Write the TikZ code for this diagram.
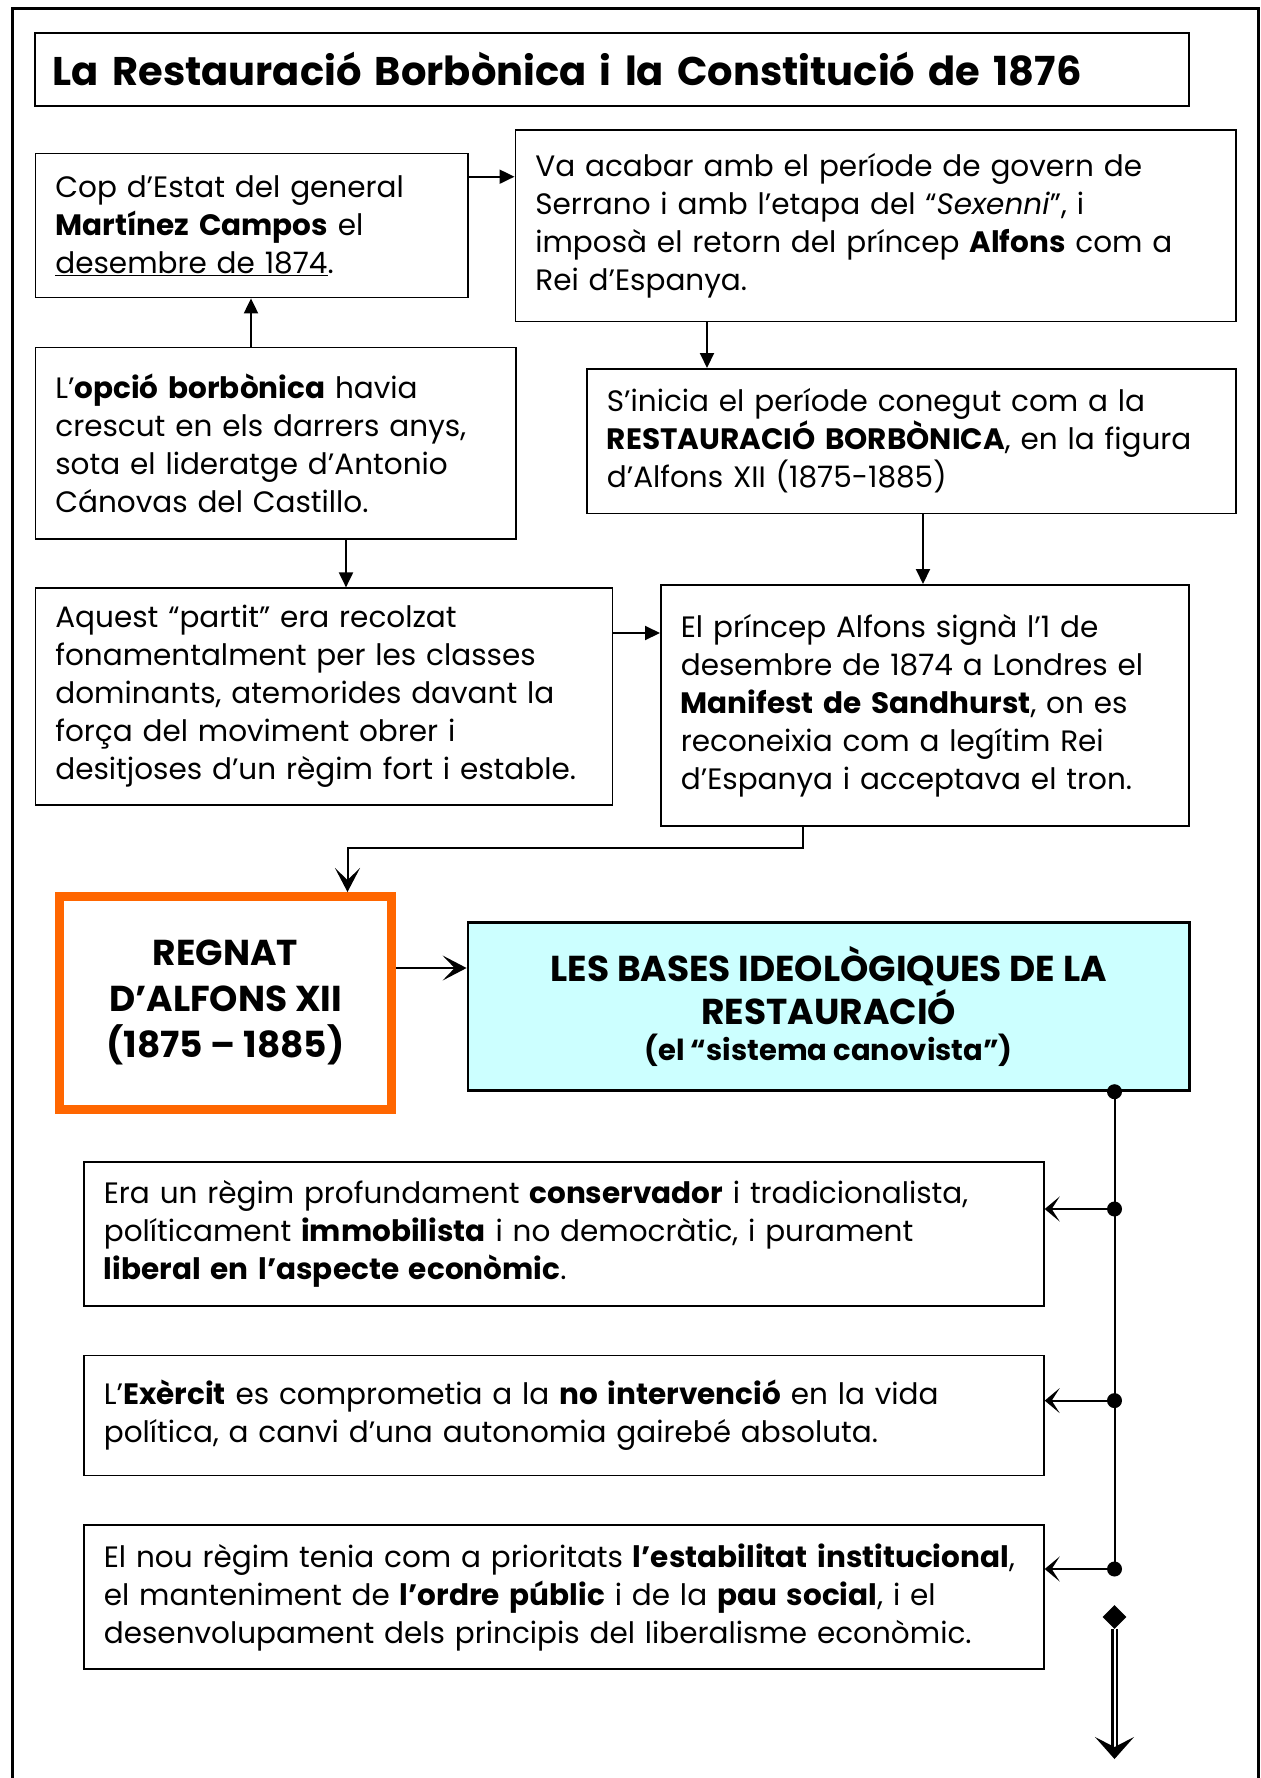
\documentclass[tikz,border=0pt]{standalone}
\usepackage{fontspec}
\setmainfont{Poppins}
\usetikzlibrary{arrows.meta, calc, positioning, shapes.geometric}
\definecolor{regnat}{HTML}{FF6600}
\definecolor{bases}{HTML}{CCFFFF}

\begin{document}
\begin{tikzpicture}[
    x=1pt, y=-1pt,
    >={Triangle[length=15pt, width=14pt]},
    every node/.style={font=\fontsize{29.5}{38}\selectfont},
    box/.style   ={draw, line width=1.7pt, align=left, anchor=north west,
                   inner xsep=20pt, inner ysep=0pt},
    titol/.style ={draw, line width=1.7pt, align=left, anchor=north west,
                   inner xsep=18pt, inner ysep=0pt, text width=1118pt,
                   minimum height=73pt, font=\fontsize{40}{46}\selectfont\bfseries},
    regne/.style ={draw=regnat, line width=9pt, align=center, anchor=north west,
                   inner sep=0pt, font=\fontsize{36}{46}\selectfont\bfseries},
    bases/.style ={draw, line width=2.7pt, fill=bases, align=center,
                   anchor=north west, inner sep=0pt,
                   font=\fontsize{36}{43}\selectfont\bfseries},
    flow/.style  ={->, line width=2pt},
    barb/.style  ={-{Stealth[length=24pt, width=25pt, inset=12pt]}, line width=2pt},
    branca/.style={-{Stealth[length=15pt, width=25pt, inset=8pt]}, line width=2pt},
    dbl/.style   ={double, double distance=2pt, line width=2.2pt,
                   -{Stealth[length=22pt, width=39pt, inset=10pt]}},
]
\useasboundingbox (0,0) rectangle (1261,1778);
\draw[line width=3pt] (12,1778) -- (12,8) -- (1258,8) -- (1258,1778);

\node[titol] (title) at (34,32) {La Restauració Borbònica i la Constitució de 1876};

\node[box, text width=392.5pt, minimum height=144pt] (cop) at (34.5,152.7)
    {Cop d’Estat del general\\ \textbf{Martínez Campos} el\\ \underline{desembre de 1874}.};
\node[box, text width=680.5pt, minimum height=191.7pt] (acabar) at (514.5,129)
    {Va acabar amb el període de govern de\\ Serrano i amb l’etapa del “\textit{Sexenni}”, i\\
     imposà el retorn del príncep \textbf{Alfons} com a\\ Rei d’Espanya.};
\node[box, text width=440.5pt, minimum height=191.7pt,
      below=48.3pt of cop.south west, anchor=north west] (opcio)
    {L’\textbf{opció borbònica} havia\\ crescut en els darrers anys,\\
     sota el lideratge d’Antonio\\ Cánovas del Castillo.};
\node[box, text width=609pt, minimum height=144.7pt] (inicia) at (586,368)
    {S’inicia el període conegut com a la\\ \textbf{RESTAURACIÓ BORBÒNICA}, en la figura\\
     d’Alfons XII (1875-1885)};
\node[box, text width=537pt, minimum height=216.7pt,
      below=47.3pt of opcio.south west, anchor=north west] (partit)
    {Aquest “partit” era recolzat\\ fonamentalment per les classes\\
     dominants, atemorides davant la\\ força del moviment obrer i\\
     desitjoses d’un règim fort i estable.};
\node[box, text width=488pt, minimum height=241pt] (manifest) at (660,584)
    {El príncep Alfons signà l’1 de\\ desembre de 1874 a Londres el\\
     \textbf{Manifest de Sandhurst}, on es\\ reconeixia com a legítim Rei\\
     d’Espanya i acceptava el tron.};

\node[regne, minimum width=332pt, minimum height=212.5pt] (regnat) at (55,892)
    {REGNAT\\ D’ALFONS XII\\ (1875 – 1885)};
\node[bases, minimum width=721.4pt, minimum height=168pt] (ideol) at (466.6,921)
    {LES BASES IDEOLÒGIQUES DE LA\\ RESTAURACIÓ\\[-7pt]
     {\fontsize{29}{34}\selectfont (el “sistema canovista”)}};

\node[box, text width=920pt, minimum height=144pt] (conserv) at (83,1161)
    {Era un règim profundament \textbf{conservador} i tradicionalista,\\
     políticament \textbf{immobilista} i no democràtic, i purament\\
     \textbf{liberal en l’aspecte econòmic}.};
\node[box, text width=920pt, minimum height=120pt,
      below=48pt of conserv.south west, anchor=north west] (exercit)
    {L’\textbf{Exèrcit} es comprometia a la \textbf{no intervenció} en la vida\\
     política, a canvi d’una autonomia gairebé absoluta.};
\node[box, text width=920pt, minimum height=144pt,
      below=48pt of exercit.south west, anchor=north west] (ordre)
    {El nou règim tenia com a prioritats \textbf{l’estabilitat institucional},\\
     el manteniment de \textbf{l’ordre públic} i de la \textbf{pau social}, i el\\
     desenvolupament dels principis del liberalisme econòmic.};

\coordinate (ab) at (0,176.7);
\coordinate (ca) at (251,0);
\coordinate (bd) at (707,0);
\coordinate (ce) at (346,0);
\coordinate (df) at (923,0);
\coordinate (ef) at (0,633);
\coordinate (fr) at (803,848);
\coordinate (rr) at (347.5,0);
\coordinate (rb) at (0,968);
\coordinate (sp) at (1114.5,0);
\coordinate (j1) at (1114.5,1209);
\coordinate (j2) at (1114.5,1400.6);
\coordinate (j3) at (1114.5,1569);
\coordinate (j0) at (ideol.south -| sp);
\coordinate (fi) at (1114.5,1759);

\draw[flow] (cop.east |- ab) -- (acabar.west |- ab);
\draw[flow] (opcio.north -| ca) -- (cop.south -| ca);
\draw[flow] (acabar.south -| bd) -- (inicia.north -| bd);
\draw[flow] (opcio.south -| ce) -- (partit.north -| ce);
\draw[flow] (inicia.south -| df) -- (manifest.north -| df);
\draw[flow] (partit.east |- ef) -- (manifest.west |- ef);
\draw[barb] (manifest.south -| fr) -- (fr) -| (regnat.north -| rr);
\draw[barb] (regnat.east |- rb) -- (ideol.west |- rb);

\draw[line width=2pt] (j0) -- (j3);
\foreach \j in {j0, j1, j2, j3}
  \fill (\j) circle (7.5pt);
\draw[branca] (j1) -- (conserv.east |- j1);
\draw[branca] (j2) -- (exercit.east |- j2);
\draw[branca] (j3) -- (ordre.east |- j3);

\node[diamond, fill, inner sep=0pt, minimum size=24pt] (rombe) at (1114.5,1617) {};
\draw[dbl] (rombe) -- (fi);
\end{tikzpicture}
\end{document}
